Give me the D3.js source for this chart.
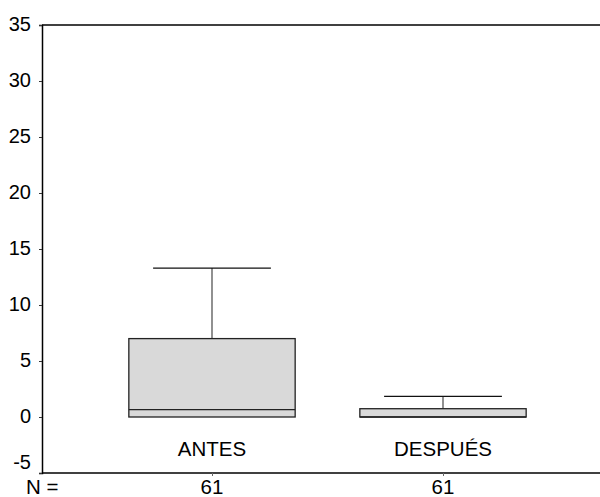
<!DOCTYPE html>
<html>
<head>
<meta charset="utf-8">
<script src="https://cdn.jsdelivr.net/npm/d3@7"></script>
<style>
  html, body { margin: 0; padding: 0; background: #fff; }
  svg { display: block; }
  text { font-family: "Liberation Sans", Arial, sans-serif; fill: #000; }
</style>
</head>
<body>
<svg id="chart" width="600" height="497"></svg>
<script>
// Box-plot summaries per group
const categories = ["ANTES", "DESPUÉS"];
const minValues    = [0, 0];
const q1Values     = [0, 0];
const medianValues = [0.65, 0];
const q3Values     = [7.0, 0.74];
const maxValues    = [13.3, 1.84];
const counts       = [61, 61];
const yTicks = [-5, 0, 5, 10, 15, 20, 25, 30, 35];

const svg = d3.select("#chart");
const plotLeft = 42, plotRight = 600, plotTop = 25, plotBottom = 473;

const y = d3.scaleLinear().domain([-5, 35]).range([plotBottom, plotTop]);
const x = d3.scaleBand().domain(categories).range([96.5, 558.5]);
const boxW = x.bandwidth() * 0.72;
const capW = x.bandwidth() * 0.51;
const cx = c => x(c) + x.bandwidth() / 2;

// frame: top line and bottom axis line
svg.append("line").attr("x1", plotLeft).attr("x2", plotRight).attr("y1", plotTop).attr("y2", plotTop)
  .attr("stroke", "#000").attr("stroke-width", 1.5);
svg.append("line").attr("x1", plotLeft).attr("x2", plotRight).attr("y1", plotBottom).attr("y2", plotBottom)
  .attr("stroke", "#000").attr("stroke-width", 1.5);

// y axis (plain hyphen for negatives)
const yAxis = svg.append("g").attr("transform", `translate(${plotLeft},0)`)
  .call(d3.axisLeft(y).tickValues(yTicks).tickSize(3).tickPadding(8).tickFormat(d => String(d)));
yAxis.select(".domain").attr("stroke", "#000").attr("stroke-width", 1.5);
yAxis.selectAll(".tick line").attr("stroke", "#333");
yAxis.selectAll(".tick text")
  .attr("font-size", 20)
  .attr("font-family", "Liberation Sans, Arial, sans-serif")
  .attr("fill", "#000")
  .attr("dy", "0.34em")
  .attr("y", d => d === -5 ? -11 : -1);

// x ticks (below axis)
const xAxis = svg.append("g").attr("transform", `translate(0,${plotBottom})`)
  .call(d3.axisBottom(d3.scalePoint().domain(categories).range([cx(categories[0]), cx(categories[1])]))
    .tickSize(3).tickFormat(""));
xAxis.select(".domain").remove();
xAxis.selectAll(".tick line").attr("stroke", "#666");

const groups = svg.append("g").selectAll("g").data(categories).join("g");

// upper whisker
groups.append("line")
  .attr("x1", c => cx(c)).attr("x2", c => cx(c))
  .attr("y1", (c, i) => y(q3Values[i])).attr("y2", (c, i) => y(maxValues[i]))
  .attr("stroke", "#555").attr("stroke-width", 1.3);
groups.append("line")
  .attr("x1", c => cx(c) - capW / 2).attr("x2", c => cx(c) + capW / 2)
  .attr("y1", (c, i) => y(maxValues[i])).attr("y2", (c, i) => y(maxValues[i]))
  .attr("stroke", "#111").attr("stroke-width", 1.3);
// lower whisker
groups.append("line")
  .attr("x1", c => cx(c)).attr("x2", c => cx(c))
  .attr("y1", (c, i) => y(q1Values[i])).attr("y2", (c, i) => y(minValues[i]))
  .attr("stroke", "#555").attr("stroke-width", 1.3);

// box
groups.append("rect")
  .attr("x", c => cx(c) - boxW / 2).attr("width", boxW)
  .attr("y", (c, i) => y(q3Values[i]))
  .attr("height", (c, i) => y(q1Values[i]) - y(q3Values[i]))
  .attr("fill", "#d9d9d9").attr("stroke", "#222").attr("stroke-width", 1.3);

// median
groups.append("line")
  .attr("x1", c => cx(c) - boxW / 2).attr("x2", c => cx(c) + boxW / 2)
  .attr("y1", (c, i) => y(medianValues[i])).attr("y2", (c, i) => y(medianValues[i]))
  .attr("stroke", "#222").attr("stroke-width", 1.3);

// category labels
groups.append("text")
  .attr("x", c => cx(c)).attr("y", 455.5)
  .attr("text-anchor", "middle").attr("font-size", 20.5)
  .text(c => c);

// counts
svg.append("text").attr("x", 26).attr("y", 493.5).attr("font-size", 20.5).text("N =");
groups.append("text")
  .attr("x", c => cx(c)).attr("y", 493.5)
  .attr("text-anchor", "middle").attr("font-size", 20.5)
  .text((c, i) => counts[i]);
</script>
</body>
</html>
